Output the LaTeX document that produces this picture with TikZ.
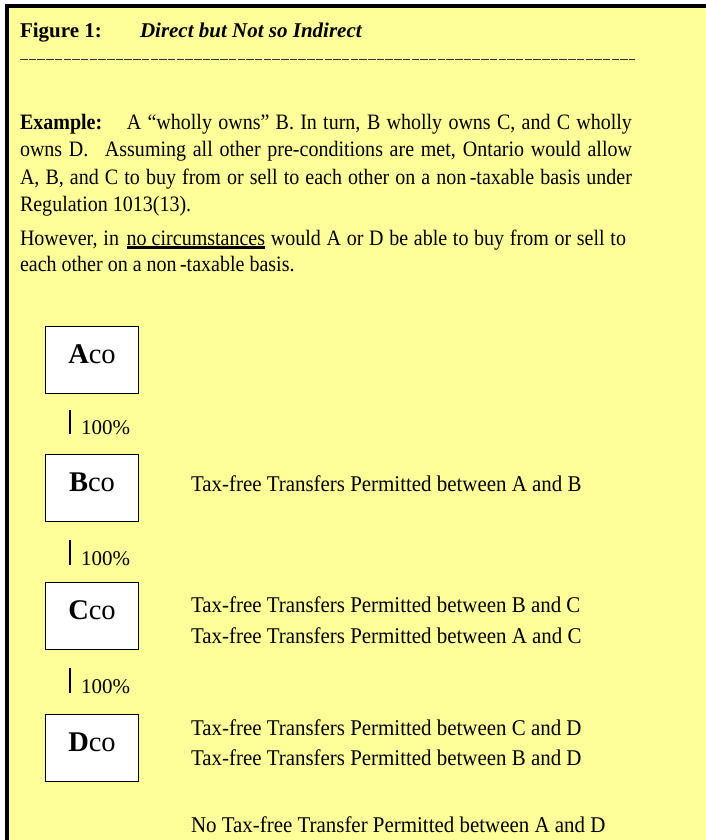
\documentclass[tikz,border=0pt]{standalone}
\usepackage{fontspec}
\setmainfont{Liberation Serif}
\newfontfamily\condfont[FakeStretch=0.91]{Liberation Serif}
\newfontfamily\rcondfont[FakeStretch=0.93]{Liberation Serif}
\definecolor{bgyellow}{HTML}{FFFF99}
\newcommand\ulthick[1]{\setbox0=\hbox{#1}\rlap{\rule[-3.5pt]{\wd0}{2.2pt}}\box0\relax}
\begin{document}
\begin{tikzpicture}[x=1pt,y=-1pt,
  txt/.style={anchor=base west, inner sep=0pt, outer sep=0pt, font=\condfont\fontsize{22}{25}\selectfont},
  ttlfont/.style={anchor=base west, inner sep=0pt, outer sep=0pt, font=\fontsize{21}{25}\selectfont\bfseries},
  rtxt/.style={anchor=base west, inner sep=0pt, outer sep=0pt, font=\rcondfont\fontsize{22.5}{25}\selectfont},
  cobox/.style={draw=black, line width=1.6pt, fill=white, minimum width=93pt, minimum height=67pt,
                inner sep=0pt, text height=6pt, text depth=0pt, font=\fontsize{28.5}{30}\selectfont},
  tickline/.style={line width=1.8pt},
  pct/.style={anchor=base west, inner sep=0pt, outer sep=0pt, font=\fontsize{21}{25}\selectfont}]
\useasboundingbox (0,0) rectangle (705,840);
\fill[white] (0,0) rectangle (705,840);
\draw[line width=4pt, fill=bgyellow] (6.5,6) rectangle (730,870);

% title
\node[ttlfont] (fig) at (20,37.7) {Figure 1:};
\node[ttlfont, font=\fontsize{21}{25}\selectfont\bfseries\itshape] (ttl) at (140,37.7) {Direct but Not so Indirect};
\coordinate (dl) at (20,59.5);
\coordinate (dr) at (635,59.5);
\draw[black!80, line width=1pt, dash pattern=on 7.5pt off 1.2pt] (dl) -- (dr);

% body
\node[txt] (l1) at (20,130) {\makebox[612pt][s]{\textbf{Example:}\hspace{0.7em} A “wholly owns” B. In turn, B wholly owns C, and C wholly}};
\node[txt] (l2) at (20,157) {\makebox[612pt][s]{owns D.\hspace{0.45em} Assuming all other pre-conditions are met, Ontario would allow}};
\node[txt] (l3) at (20,184) {\makebox[612pt][s]{A, B, and C to buy from or sell to each other on a non\hspace{0.15em}-taxable basis under}};
\node[txt] (l4) at (20,211) {Regulation 1013(13).};
\node[txt] (l5) at (20,245) {\makebox[606pt][s]{However, in\hspace{0.35em}\ulthick{no circumstances} would A or D be able to buy from or sell to}};
\node[txt] (l6) at (20,271) {each other on a non\hspace{0.15em}-taxable basis.};

% boxes
\node[cobox] (A) at (92,360) {\textbf{A}co};
\node[cobox] (B) at (92,488) {\textbf{B}co};
\node[cobox] (C) at (92,616) {\textbf{C}co};
\node[cobox] (D) at (92,748) {\textbf{D}co};

% ownership ticks
\coordinate (t1a) at (70,410); \coordinate (t1b) at (70,434);
\coordinate (t2a) at (70,540); \coordinate (t2b) at (70,565);
\coordinate (t3a) at (70,668); \coordinate (t3b) at (70,693);
\draw[tickline] (t1a) -- (t1b);
\draw[tickline] (t2a) -- (t2b);
\draw[tickline] (t3a) -- (t3b);
\node[pct] (p1) at (81,434) {100\%};
\node[pct] (p2) at (81,565) {100\%};
\node[pct] (p3) at (81,693) {100\%};

% right column
\node[rtxt] (rab) at (191,491) {Tax-free Transfers Permitted between A and B};
\node[rtxt] (rbc) at (191,612) {Tax-free Transfers Permitted between B and C};
\node[rtxt] (rac) at (191,643) {Tax-free Transfers Permitted between A and C};
\node[rtxt] (rcd) at (191,735) {Tax-free Transfers Permitted between C and D};
\node[rtxt] (rbd) at (191,765) {Tax-free Transfers Permitted between B and D};
\node[rtxt] (rad) at (191,832) {No Tax-free Transfer Permitted between A and D};
\end{tikzpicture}
\end{document}
